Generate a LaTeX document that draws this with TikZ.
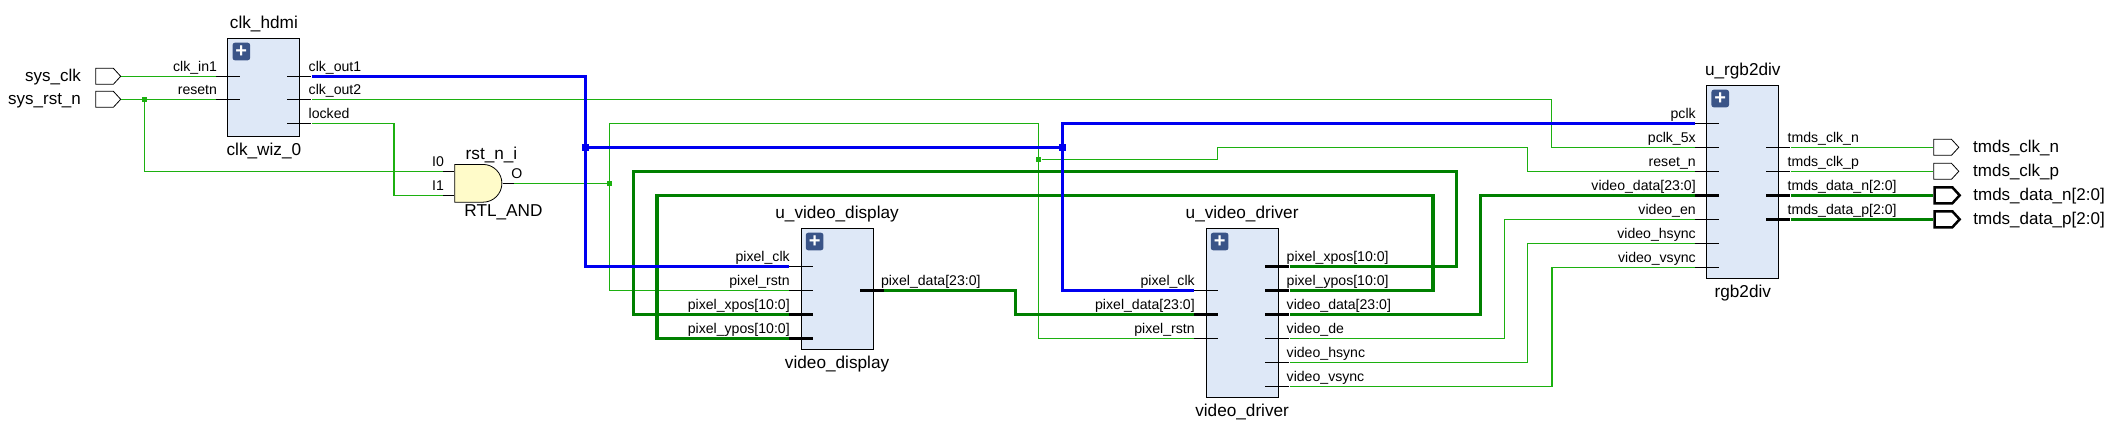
\documentclass[tikz,border=0pt]{standalone}
\usepackage{fontspec}
\setmainfont{Liberation Sans}
\usetikzlibrary{positioning}
\usetikzlibrary{shapes.symbols}
\usetikzlibrary{shapes.gates.logic.US}
\definecolor{blockfill}{RGB}{222,232,247}
\definecolor{gatefill}{RGB}{255,251,201}
\definecolor{plusfill}{RGB}{58,84,136}
\definecolor{netgreen}{RGB}{28,176,16}
\definecolor{busgreen}{RGB}{0,128,0}
\definecolor{clkblue}{RGB}{0,0,240}

\begin{document}
\begin{tikzpicture}
        \tikzset{
          x=0.5pt,
          y=-0.5pt,
          line join=miter,
          block/.style={
            draw, fill=blockfill,
            line width=0.5pt,
            inner sep=0pt,
            anchor=north west,
          },
          plusbox/.style={
            fill=plusfill, text=white,
            rounded corners=1.2pt,
            inner sep=0pt,
            minimum size=8.8pt,
            anchor=north west,
            font=\fontsize{10}{10}\selectfont\bfseries,
          },
          blockname/.style={
            inner sep=0pt,
            text height=0pt,
            text depth=0pt,
            font=\fontsize{8.6}{10}\selectfont,
          },
          portname/.style={
            inner sep=0pt,
            text height=5.5pt,
            text depth=0pt,
            font=\fontsize{8.5}{10}\selectfont,
          },
          pinname/.style={
            inner sep=0pt,
            font=\fontsize{7.05}{8}\selectfont,
          },
          stub/.style={
            fill=black,
            inner sep=0pt,
            anchor=west,
            minimum width=12pt,
            minimum height=0.6pt,
          },
          busstub/.style={stub, minimum height=1.75pt},
          shortstub/.style={stub, minimum width=5.5pt},
          port/.style={
            draw, fill=white,
            signal, signal to=east, signal from=nowhere,
            signal pointer angle=95,
            line width=0.4pt,
            inner sep=0pt,
            minimum width=12.5pt,
            minimum height=8pt,
            anchor=west,
          },
          busport/.style={port, line width=1.25pt},
          net/.style={draw=netgreen, line width=0.75pt},
          clknet/.style={draw=clkblue, line width=1.5pt},
          busnet/.style={draw=busgreen, line width=1.75pt},
          junction/.style={fill=netgreen, inner sep=0pt, minimum size=2.5pt},
          clkjunction/.style={fill=clkblue, inner sep=0pt, minimum size=3.2pt},
        }
        \useasboundingbox (0,0) rectangle (2114,433);

        \node[block, minimum width=36pt, minimum height=49pt] (clkhdmi) at (227.4,38.3) {};
        \node[block, minimum width=35.9pt, minimum height=60.5pt] (display) at (800.7,228.3) {};
        \node[block, minimum width=35.9pt, minimum height=84.5pt] (driver) at (1205.7,228.3) {};
        \node[block, minimum width=36pt, minimum height=96.5pt] (rgbdiv) at (1706.3,85.3) {};
        \foreach \blk in {clkhdmi, display, driver, rgbdiv}
          \node[plusbox] (\blk plus) at ([shift={(4.7,4)}]\blk.north west) {+};

        \node[blockname, above=4pt of clkhdmi] (clkhdmit) {clk\_hdmi};
        \node[blockname, below=8.3pt of clkhdmi] (clkhdmib) {clk\_wiz\_0};
        \node[blockname, above=4.1pt of display] (displayt) {u\_video\_display};
        \node[blockname, below=8.6pt of display] (displayb) {video\_display};
        \node[blockname, above=4.1pt of driver] (drivert) {u\_video\_driver};
        \node[blockname, below=8.6pt of driver] (driverb) {video\_driver};
        \node[blockname, above=4.1pt of rgbdiv] (rgbdivt) {u\_rgb2div};
        \node[blockname, below=8.6pt of rgbdiv] (rgbdivb) {rgb2div};

        \node[and gate US, draw, fill=gatefill, logic gate inputs=nn,
          line width=0.4pt, inner sep=0pt, anchor=west,
          minimum width=23.6pt, minimum height=18.3pt] (gate) at (454.3,183.3) {};
        \node[blockname] (gatet) at (491.5,159.3) {rst\_n\_i};
        \node[blockname] (gateb) at (503.5,216.7) {RTL\_AND};

        \foreach \id/\px/\py/\kind/\txt in {
            clkin/215.9/76.3/stub/clk\_in1,
            resetn/215.9/99.3/stub/resetn,
            gin/442.9/171.3/shortstub/I0,
            gib/442.9/195.3/shortstub/I1,
            dsclk/788.6/266.3/stub/pixel\_clk,
            dsrstn/788.6/290.3/stub/pixel\_rstn,
            dsx/788.6/314.3/busstub/pixel\_xpos[10:0],
            dsy/788.6/338.3/busstub/pixel\_ypos[10:0],
            drvclk/1193.6/290.3/stub/pixel\_clk,
            drvdata/1193.6/314.3/busstub/pixel\_data[23:0],
            drvrstn/1193.6/338.3/stub/pixel\_rstn,
            rgbclk/1694.6/123.3/stub/pclk,
            rgbfast/1694.6/147.3/stub/pclk\_5x,
            rgbrst/1694.6/171.3/stub/reset\_n,
            rgbdata/1694.6/195.3/busstub/video\_data[23:0],
            rgben/1694.6/219.3/stub/video\_en,
            rgbhs/1694.6/243.3/stub/video\_hsync,
            rgbvs/1694.6/267.3/stub/video\_vsync} {
          \node[\kind] (\id) at (\px,\py) {};
          \node[pinname, anchor=base east] (\id t) at ([shift={(1.5,-4.6)}]\id.west) {\txt};
        }
        \foreach \id/\px/\py/\kind/\txt in {
            clkouta/287/76.3/stub/clk\_out1,
            clkoutb/287/99.3/stub/clk\_out2,
            locked/287/123.3/stub/locked,
            gout/502.6/183.3/shortstub/O,
            dsdata/859.3/290.3/busstub/pixel\_data[23:0],
            drvx/1265/266.3/busstub/pixel\_xpos[10:0],
            drvy/1265/290.3/busstub/pixel\_ypos[10:0],
            drvvd/1265/314.3/busstub/video\_data[23:0],
            drvde/1265/338.3/stub/video\_de,
            drvhs/1265/362.3/stub/video\_hsync,
            drvvs/1265/386.3/stub/video\_vsync,
            tclkn/1765.9/147.3/stub/tmds\_clk\_n,
            tclkp/1765.9/171.3/stub/tmds\_clk\_p,
            tdatan/1765.9/195.3/busstub/tmds\_data\_n[2:0],
            tdatap/1765.9/219.3/busstub/tmds\_data\_p[2:0]} {
          \node[\kind] (\id) at (\px,\py) {};
          \node[pinname, anchor=base west] (\id t) at ([shift={(-3.5,-4.6)}]\id.east) {\txt};
        }

        \node[port] (sysclk) at (95.3,76.3) {};
        \node[port] (sysrst) at (95.3,99.3) {};
        \node[port] (oclkn) at (1933.4,147.3) {};
        \node[port] (oclkp) at (1933.4,171.3) {};
        \node[busport] (odatan) at (1933.4,195.3) {};
        \node[busport] (odatap) at (1933.4,219.3) {};
        \node[portname, left=7pt of sysclk] (sysclkt) {sys\_clk};
        \node[portname, left=7pt of sysrst] (sysrstt) {sys\_rst\_n};
        \node[portname, right=6.7pt of oclkn] (oclknt) {tmds\_clk\_n};
        \node[portname, right=6.7pt of oclkp] (oclkpt) {tmds\_clk\_p};
        \node[portname, right=5.8pt of odatan] (odatant) {tmds\_data\_n[2:0]};
        \node[portname, right=5.8pt of odatap] (odatapt) {tmds\_data\_p[2:0]};

        \node[junction] (jrst) at (144.3,99.3) {};
        \node[junction] (jgate) at (609.6,183.3) {};
        \node[junction] (jdrv) at (1038.6,159.3) {};
        \node[clkjunction] (jclka) at (585.6,147.3) {};
        \node[clkjunction] (jclkb) at (1062.5,147.3) {};

        \foreach \id/\px/\py in {
            bfast/1551.7/99.3, block/394.2/123.3,
            brsta/609.6/123.3, brstb/1038.6/123.3,
            brstc/1217.5/147.3, brstd/1527.5/171.3,
            bde/1504.3/219.3, bhs/1527.5/243.3, bvs/1551.8/267.3,
            bxa/1456.4/171.3, bxb/633.6/171.3,
            bya/1432.9/195.7, byb/657.1/195.7,
            bdata/1015.7/290.3, bvd/1480.7/195.3}
          \coordinate (\id) at (\px,\py);

        \draw[net]
          (sysclk.east) -- (clkin.west)
          (sysrst.east) -- (resetn.west)
          (jrst) |- (gin.west)
          (clkoutb.east) -| (bfast) |- (rgbfast.west)
          (locked.east) -| (block) |- (gib.west)
          (gout.east) -- (jgate)
          (dsrstn.west) -| (brsta) -- (brstb) |- (drvrstn.west)
          (jdrv) -| (brstc) -| (brstd) -- (rgbrst.west)
          (drvde.east) -| (bde) -- (rgben.west)
          (drvhs.east) -| (bhs) -- (rgbhs.west)
          (drvvs.east) -| (bvs) -- (rgbvs.west)
          (tclkn.east) -- (oclkn.west)
          (tclkp.east) -- (oclkp.west);
        \draw[busnet]
          (drvx.east) -| (bxa) -- (bxb) |- (dsx.west)
          (drvy.east) -| (bya) -- (byb) |- (dsy.west)
          (dsdata.east) -| (bdata) |- (drvdata.west)
          (drvvd.east) -| (bvd) -- (rgbdata.west)
          (tdatan.east) -- (odatan.west)
          (tdatap.east) -- (odatap.west);
        \draw[clknet]
          (clkouta.east) -| (jclka) |- (dsclk.west)
          (jclka) -- (jclkb)
          (drvclk.west) -| (jclkb) |- (rgbclk.west);
      \end{tikzpicture}
\end{document}
